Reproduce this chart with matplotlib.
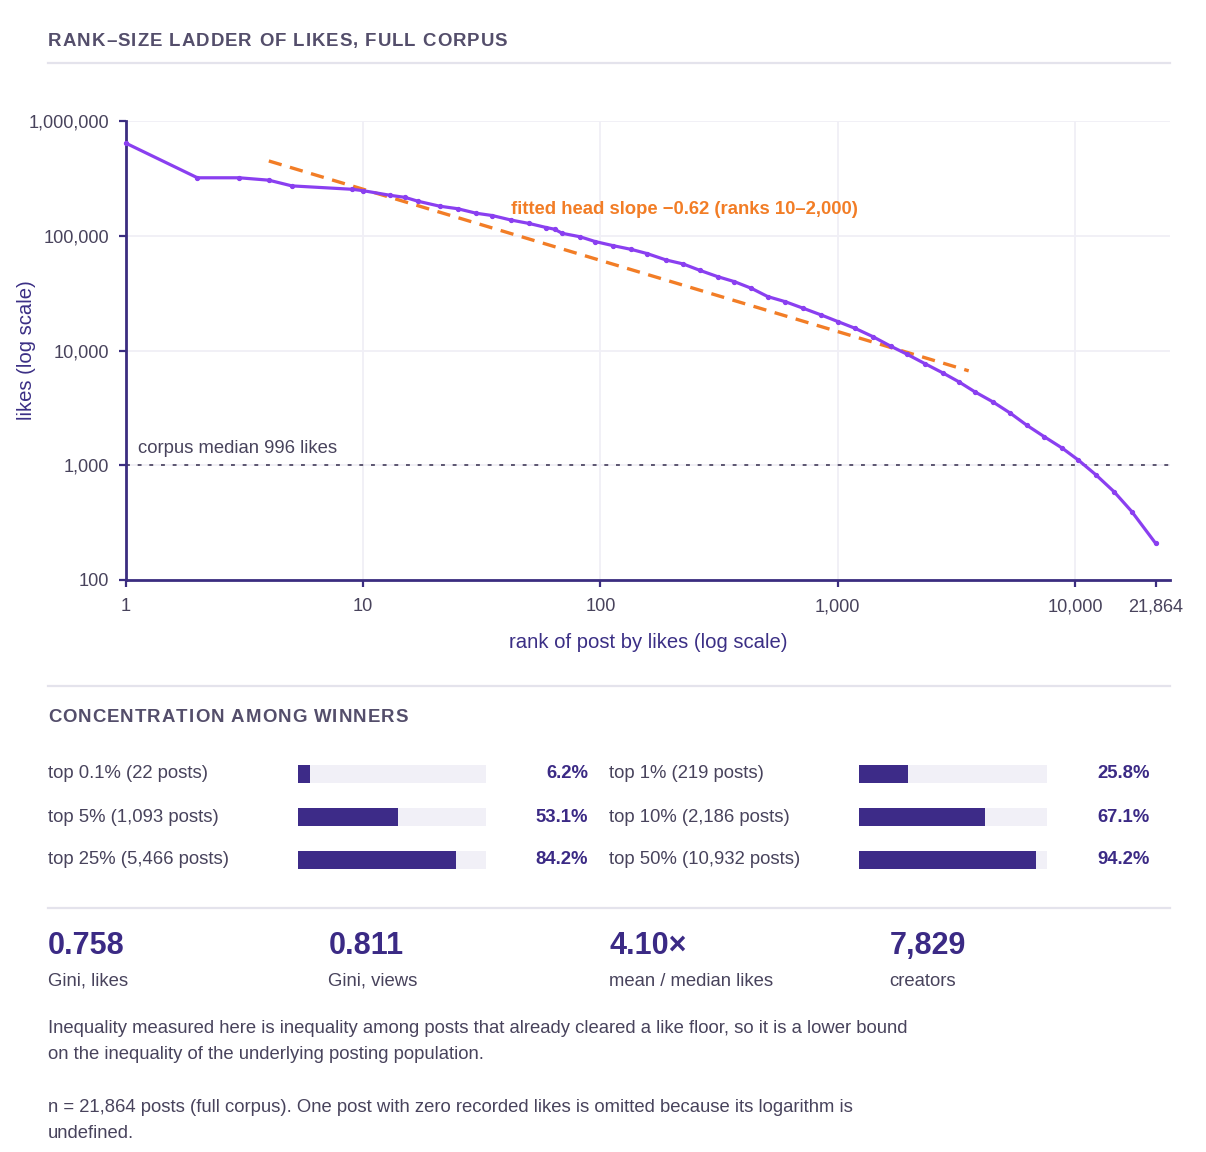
import matplotlib
matplotlib.use("Agg")
import matplotlib.pyplot as plt

plt.rcParams['font.family'] = ['Liberation Sans', 'DejaVu Sans']

# ---- data ----
ranks = [1, 2, 3, 4, 5, 9, 10, 13, 15, 17, 21, 25, 30, 35, 42, 50, 59, 64, 69,
         82, 95, 113, 135, 157, 189, 223, 262, 312, 367, 433, 507, 602, 717,
         852, 1006, 1184, 1407, 1673, 1955, 2325, 2765, 3233, 3780, 4494, 5345,
         6250, 7432, 8836, 10330, 12280, 14600, 17370, 21864]
likes = [640000, 320000, 320000, 305000, 272000, 254000, 247000, 225000,
         216000, 200000, 181000, 172000, 157000, 150000, 137000, 128000,
         118000, 114000, 105000, 98000, 89000, 82000, 76000, 70000, 61500,
         56800, 50000, 44000, 39800, 34800, 29500, 26600, 23300, 20400, 17800,
         15600, 13200, 10900, 9300, 7700, 6400, 5350, 4370, 3580, 2840, 2240,
         1770, 1410, 1110, 822, 589, 394, 209]

fit_slope = -0.62
fit_log_intercept = 6.025
fit_ranks = [4, 3565]
median_likes = 996
n_posts = 21864

x_ticks = [1, 10, 100, 1000, 10000, 21864]
y_ticks = [100, 1000, 10000, 100000, 1000000]

conc_left_labels = ["top 0.1% (22 posts)", "top 5% (1,093 posts)", "top 25% (5,466 posts)"]
conc_left_values = [6.2, 53.1, 84.2]
conc_right_labels = ["top 1% (219 posts)", "top 10% (2,186 posts)", "top 50% (10,932 posts)"]
conc_right_values = [25.8, 67.1, 94.2]

stat_values = ["0.758", "0.811", "4.10\u00d7", "7,829"]
stat_labels = ["Gini, likes", "Gini, views", "mean / median likes", "creators"]

note_lines = [
    "Inequality measured here is inequality among posts that already cleared a like floor, so it is a lower bound",
    "on the inequality of the underlying posting population.",
    "",
    "n = 21,864 posts (full corpus). One post with zero recorded likes is omitted because its logarithm is",
    "undefined.",
]

# ---- colours ----
PURPLE = '#8a3ff0'
ORANGE = '#f27d26'
INDIGO = '#3b2d80'
BAR = '#3d2b88'
TRACK = '#f1f0f7'
TEXT = '#48435c'
HEAD = '#544e6b'
RULE = '#e4e3ec'
GRID = '#f0eff6'

FS = 13.35  # body text size

W, H = 1206, 1152
fig = plt.figure(figsize=(W / 100, H / 100), dpi=100)


def fx(x):
    return x / W


def fy(y):
    return 1 - y / H


def rule(y):
    fig.add_artist(plt.Line2D([fx(48), fx(1170)], [fy(y), fy(y)], color=RULE, lw=1.6))


def tracked(x, y, s, size, color, spacing):
    renderer = fig.canvas.get_renderer()
    cx = x
    for ch in s:
        t = fig.text(fx(cx), fy(y), ch, fontsize=size, fontweight='bold',
                     color=color, ha='left', va='center')
        if ch == ' ':
            w = 0.278 * size * 100 / 72
        else:
            w = t.get_window_extent(renderer).width
        cx += w + spacing


# ---- title ----
tracked(48, 41, "RANK\u2013SIZE LADDER OF LIKES, FULL CORPUS", 13.4, HEAD, 1.0)
rule(63)

# ---- rank-size chart ----
ax = fig.add_axes([fx(126), fy(580), fx(1170) - fx(126), fy(121) - fy(580)])
ax.set_xscale('log')
ax.set_yscale('log')
ax.set_xlim(1, 25150)
ax.set_ylim(100, 1000000)

ax.set_xticks(x_ticks)
ax.set_xticklabels([f"{v:,}" for v in x_ticks])
ax.set_yticks(y_ticks)
ax.set_yticklabels([f"{v:,}" for v in y_ticks])
ax.minorticks_off()

ax.grid(True, color=GRID, lw=1.3)
ax.xaxis.get_gridlines()[-1].set_visible(False)
ax.set_axisbelow(True)

for side in ['top', 'right']:
    ax.spines[side].set_visible(False)
for side in ['left', 'bottom']:
    ax.spines[side].set_color(INDIGO)
    ax.spines[side].set_linewidth(2)
ax.tick_params(axis='both', colors=INDIGO, length=5, width=1.6,
               labelsize=13.1, labelcolor=TEXT)
ax.tick_params(axis='x', pad=8)
ax.tick_params(axis='y', pad=7)

ax.axhline(median_likes, color='#5b5570', lw=1.4, ls=(0, (2, 4)), zorder=2)
ax.text(1.12, 1390, f"corpus median {median_likes:,} likes", fontsize=FS,
        color=TEXT, va='center', ha='left')

fit_y = [10 ** fit_log_intercept * r ** fit_slope for r in fit_ranks]
ax.plot(fit_ranks, fit_y, color=ORANGE, lw=2.4, ls=(0, (4, 2.6)), zorder=3)
ax.text(42, 171000, "fitted head slope \u22120.62 (ranks 10\u20132,000)",
        fontsize=13.3, fontweight='bold', color=ORANGE, va='center', ha='left')

ax.plot(ranks, likes, color=PURPLE, lw=2.3, marker='o', ms=2.8,
        zorder=4, clip_on=False)

fig.text(fx(27), fy(350), "likes (log scale)", rotation=90, fontsize=14.6,
         color='#3b2f85', ha='center', va='center')
fig.text(fx(648), fy(643), "rank of post by likes (log scale)", fontsize=14.6,
         color='#3b2f85', ha='center', va='center')

# ---- concentration ----
rule(686)
tracked(48, 717, "CONCENTRATION AMONG WINNERS", 13.4, HEAD, 1.0)


def conc_column(x0, x1, label_x, value_x, labels, values):
    bx = fig.add_axes([fx(x0), fy(881.5), fx(x1) - fx(x0), fy(752.5) - fy(881.5)])
    rows = list(range(len(values)))
    bx.barh(rows, [100] * len(values), height=0.42, color=TRACK)
    bx.barh(rows, values, height=0.42, color=BAR)
    bx.set_xlim(0, 100)
    bx.set_ylim(len(values) - 0.5, -0.5)
    bx.axis('off')
    tr = bx.get_yaxis_transform()
    width = x1 - x0
    for r, lab, v in zip(rows, labels, values):
        bx.text((label_x - x0) / width, r, lab, transform=tr, fontsize=FS,
                color=TEXT, ha='left', va='center')
        bx.text((value_x - x0) / width, r, f"{v:.1f}%", transform=tr,
                fontsize=FS, fontweight='bold', color='#3b2a85',
                ha='right', va='center')


conc_column(298, 486, 48, 588, conc_left_labels, conc_left_values)
conc_column(859, 1047, 609, 1150, conc_right_labels, conc_right_values)

# ---- stats ----
rule(908)
for i, (v, lab) in enumerate(zip(stat_values, stat_labels)):
    x = 48 + i * 280.5
    fig.text(fx(x), fy(946), v, fontsize=22, fontweight='bold',
             color='#3b2a85', ha='left', va='center')
    fig.text(fx(x), fy(981), lab, fontsize=FS, color=TEXT,
             ha='left', va='center')

# ---- notes ----
for i, line in enumerate(note_lines):
    if line:
        fig.text(fx(48), fy(1028.5 + i * 26.3), line, fontsize=13.3, color=TEXT,
                 ha='left', va='center')

fig.savefig("out.png", dpi=100, facecolor='white')
